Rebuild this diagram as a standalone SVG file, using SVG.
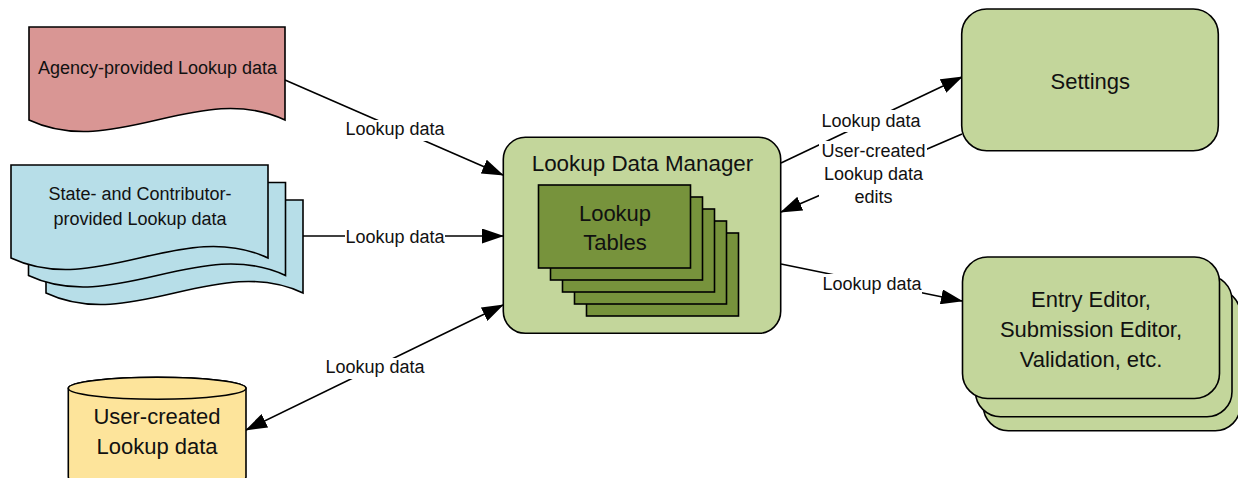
<svg xmlns="http://www.w3.org/2000/svg" width="1238" height="478" viewBox="0 0 1238 478">
<style>
  .shape { stroke: #000; stroke-width: 1.6; }
  .green { fill: #C3D69B; }
  .dark { fill: #77933C; }
  .pink { fill: #D99694; }
  .blue { fill: #B7DEE8; }
  .yellow { fill: #FDE49B; }
  text { font-family: "Liberation Sans", Arial, sans-serif; fill: #111; text-anchor: middle; }
  .t18 { font-size: 18px; }
  .t22 { font-size: 22px; }
  .conn { stroke: #000; stroke-width: 1.6; fill: none; }
  .lblbg { fill: #fff; }
</style>
<defs>
  <marker id="ah" markerWidth="22" markerHeight="15" refX="21" refY="7.5" orient="auto-start-reverse" markerUnits="userSpaceOnUse">
    <path d="M0,0 L22,7.5 L0,15 z" fill="#000"/>
  </marker>
</defs>

<g id="connectors">
  <line class="conn" x1="285" y1="80" x2="503" y2="175" marker-end="url(#ah)"/>
  <line class="conn" x1="286" y1="236" x2="503" y2="236" marker-end="url(#ah)"/>
  <line class="conn" x1="503" y1="305" x2="246" y2="430" marker-start="url(#ah)" marker-end="url(#ah)"/>
  <line class="conn" x1="781" y1="163" x2="962" y2="77" marker-end="url(#ah)"/>
  <line class="conn" x1="962" y1="134" x2="781" y2="212" marker-end="url(#ah)"/>
  <line class="conn" x1="781" y1="264" x2="962" y2="301" marker-end="url(#ah)"/>
</g>

<g id="connector-labels">
  <rect class="lblbg" x="345" y="120" width="100" height="21"/>
  <text class="t18" x="395" y="135">Lookup data</text>
  <rect class="lblbg" x="345" y="227" width="100" height="21"/>
  <text class="t18" x="395" y="243">Lookup data</text>
  <rect class="lblbg" x="325" y="358" width="100" height="21"/>
  <text class="t18" x="375" y="373">Lookup data</text>
  <rect class="lblbg" x="821" y="110" width="101" height="22"/>
  <text class="t18" x="871" y="127">Lookup data</text>
  <rect class="lblbg" x="819" y="141" width="108" height="68"/>
  <text class="t18" x="873.5" y="157">User-created</text>
  <text class="t18" x="873.5" y="180">Lookup data</text>
  <text class="t18" x="873.5" y="203">edits</text>
  <rect class="lblbg" x="822" y="274" width="100" height="21"/>
  <text class="t18" x="872" y="290">Lookup data</text>
</g>

<g id="agency-data">
  <path class="shape pink" d="M29,27 H285 V120 C200,80 114,160 29,120 Z"/>
  <text class="t18" x="157.5" y="74">Agency-provided Lookup data</text>
</g>

<g id="state-data">
  <path class="shape blue" d="M46,200 H303 V293 C218,253 131,333 46,293 Z"/>
  <path class="shape blue" d="M28.5,182.5 H285.5 V275.5 C200.5,235.5 113.5,315.5 28.5,275.5 Z"/>
  <path class="shape blue" d="M11,165 H268 V258 C183,218 96,298 11,258 Z"/>
  <text class="t18" x="140" y="200">State- and Contributor-</text>
  <text class="t18" x="140" y="225">provided Lookup data</text>
</g>

<g id="user-created-data">
  <path class="shape yellow" d="M68.3,388.3 V477 A88.85,11 0 0 0 246,477 V388.3 A88.85,11 0 0 0 68.3,388.3 Z"/>
  <ellipse class="shape yellow" cx="157.15" cy="388.3" rx="88.85" ry="11"/>
  <text class="t22" x="157" y="424">User-created</text>
  <text class="t22" x="157" y="453.5">Lookup data</text>
</g>

<g id="lookup-data-manager">
  <rect class="shape green" x="503.3" y="137.3" width="277.4" height="196" rx="22" ry="22"/>
  <text class="t22" x="642.5" y="170.5" style="font-size:22.4px">Lookup Data Manager</text>
</g>

<g id="lookup-tables">
  <rect class="shape dark" x="586.5" y="233" width="152" height="83"/>
  <rect class="shape dark" x="574.5" y="221" width="152" height="83"/>
  <rect class="shape dark" x="562.5" y="209" width="152" height="83"/>
  <rect class="shape dark" x="550.5" y="197" width="152" height="83"/>
  <rect class="shape dark" x="538.5" y="185" width="152" height="83"/>
  <text class="t22" x="615" y="220.5">Lookup</text>
  <text class="t22" x="615" y="249.5">Tables</text>
</g>

<g id="settings">
  <rect class="shape green" x="961.7" y="9" width="256.6" height="141.7" rx="25" ry="25"/>
  <text class="t22" x="1090.3" y="89.3">Settings</text>
</g>

<g id="editors">
  <rect class="shape green" x="983.3" y="289.2" width="257" height="141.5" rx="25" ry="25"/>
  <rect class="shape green" x="975.5" y="275.2" width="256.5" height="141.5" rx="25" ry="25"/>
  <rect class="shape green" x="962.5" y="257" width="257" height="141.5" rx="25" ry="25"/>
  <text class="t22" x="1091" y="306.7">Entry Editor,</text>
  <text class="t22" x="1091" y="337">Submission Editor,</text>
  <text class="t22" x="1091" y="366.7">Validation, etc.</text>
</g>
</svg>
